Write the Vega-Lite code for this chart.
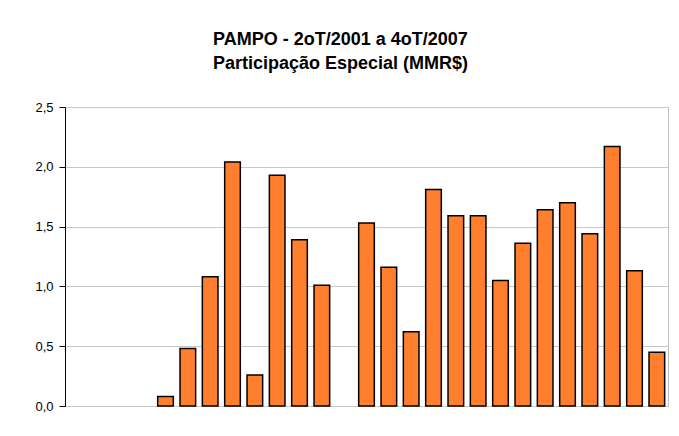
{
  "$schema": "https://vega.github.io/schema/vega-lite/v6.json",
  "width": 603,
  "height": 299,
  "autosize": {"type": "none"},
  "padding": {"left": 65, "top": 107, "right": 11, "bottom": 30},
  "background": "white",
  "title": {
    "text": ["PAMPO - 2oT/2001 a 4oT/2007", "Participação Especial (MMR$)"],
    "font": "Liberation Sans",
    "fontSize": 18,
    "fontWeight": "bold",
    "color": "#000000",
    "lineHeight": 24,
    "anchor": "middle",
    "dx": -26,
    "offset": 28
  },
  "config": {
    "view": {"stroke": "#bfbfbf", "strokeWidth": 1},
    "font": "Liberation Sans"
  },
  "data": {
    "values": [
      {"q": "2T/2001", "v": null},
      {"q": "3T/2001", "v": null},
      {"q": "4T/2001", "v": null},
      {"q": "1T/2002", "v": null},
      {"q": "2T/2002", "v": 0.08},
      {"q": "3T/2002", "v": 0.48},
      {"q": "4T/2002", "v": 1.08},
      {"q": "1T/2003", "v": 2.04},
      {"q": "2T/2003", "v": 0.26},
      {"q": "3T/2003", "v": 1.93},
      {"q": "4T/2003", "v": 1.39},
      {"q": "1T/2004", "v": 1.01},
      {"q": "2T/2004", "v": null},
      {"q": "3T/2004", "v": 1.53},
      {"q": "4T/2004", "v": 1.16},
      {"q": "1T/2005", "v": 0.62},
      {"q": "2T/2005", "v": 1.81},
      {"q": "3T/2005", "v": 1.59},
      {"q": "4T/2005", "v": 1.59},
      {"q": "1T/2006", "v": 1.05},
      {"q": "2T/2006", "v": 1.36},
      {"q": "3T/2006", "v": 1.64},
      {"q": "4T/2006", "v": 1.70},
      {"q": "1T/2007", "v": 1.44},
      {"q": "2T/2007", "v": 2.17},
      {"q": "3T/2007", "v": 1.13},
      {"q": "4T/2007", "v": 0.45}
    ]
  },
  "mark": {"type": "bar", "fill": "#ff7f2e", "stroke": "#000000", "strokeWidth": 1.5},
  "encoding": {
    "x": {
      "field": "q",
      "type": "ordinal",
      "sort": null,
      "scale": {
        "domain": ["2T/2001","3T/2001","4T/2001","1T/2002","2T/2002","3T/2002","4T/2002","1T/2003","2T/2003","3T/2003","4T/2003","1T/2004","2T/2004","3T/2004","4T/2004","1T/2005","2T/2005","3T/2005","4T/2005","1T/2006","2T/2006","3T/2006","4T/2006","1T/2007","2T/2007","3T/2007","4T/2007"],
        "paddingInner": 0.3,
        "paddingOuter": 0.15
      },
      "axis": null
    },
    "y": {
      "field": "v",
      "type": "quantitative",
      "scale": {"domain": [0, 2.5]},
      "axis": {
        "title": null,
        "values": [0, 0.5, 1, 1.5, 2, 2.5],
        "labelExpr": "replace(format(datum.value, '.1f'), '.', ',')",
        "labelFont": "Liberation Sans",
        "labelFontSize": 13,
        "labelColor": "#000000",
        "labelPadding": 6,
        "tickSize": 6,
        "tickColor": "#000000",
        "domainColor": "#000000",
        "gridColor": "#c8c8c8",
        "grid": true
      }
    }
  }
}
